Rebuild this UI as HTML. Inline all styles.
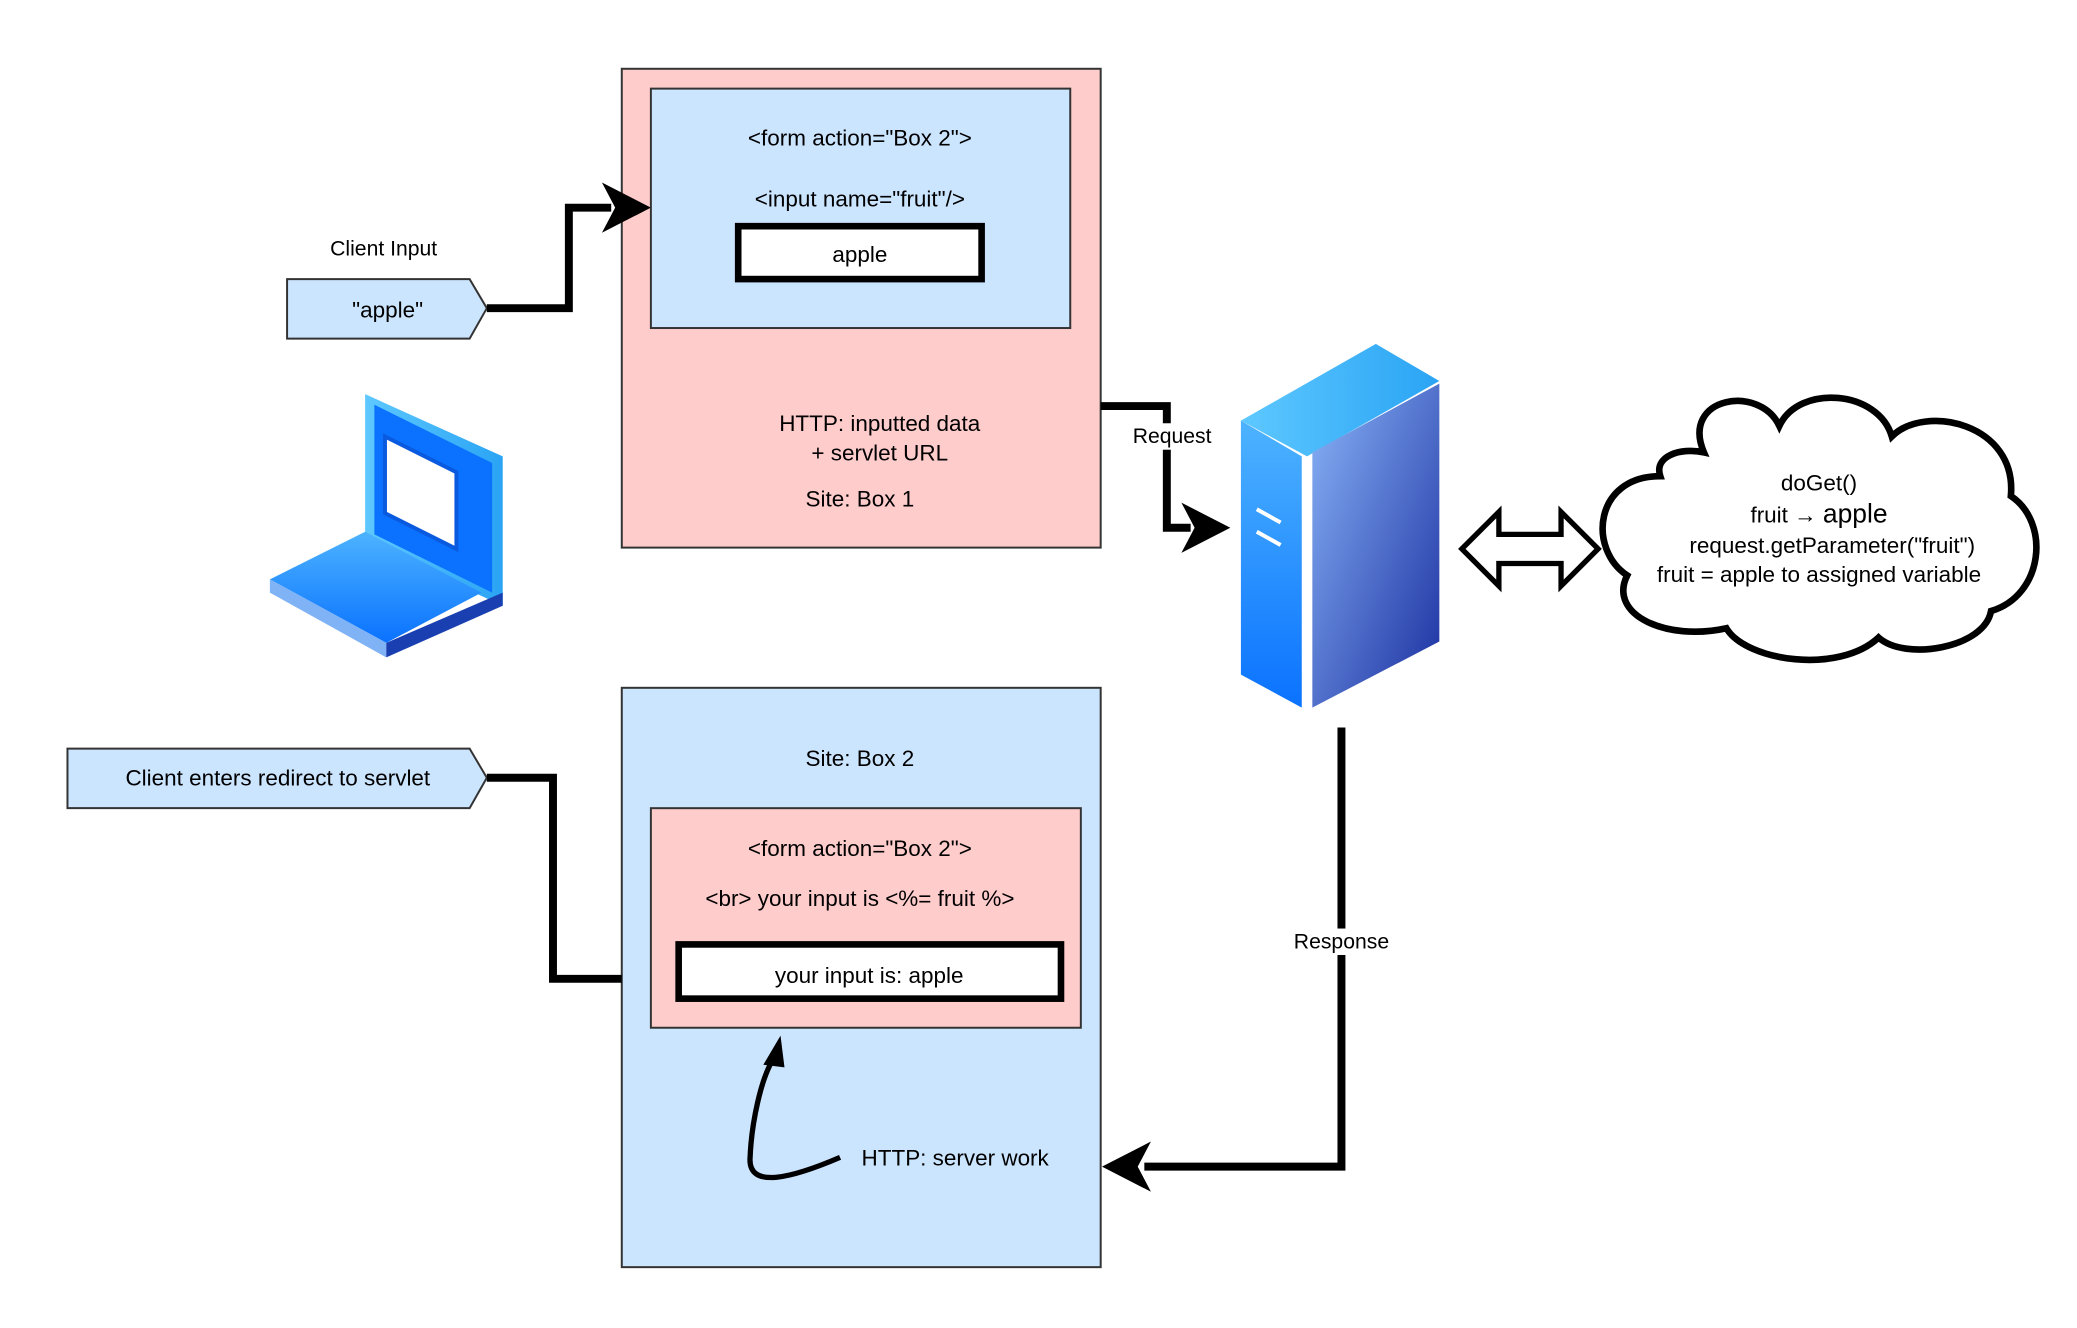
<!DOCTYPE html>
<html><head><meta charset="utf-8"><style>html,body{margin:0;padding:0;background:#fff}svg{display:block}text{font-family:"Liberation Sans",sans-serif;fill:#000}</style></head>
<body>
<svg width="2077" height="1328" viewBox="0 0 1570 1004" preserveAspectRatio="none" xmlns="http://www.w3.org/2000/svg">
<defs>
<linearGradient id="sf" x1="0" y1="0" x2="0" y2="1"><stop offset="0" stop-color="#4db3ff"/><stop offset="1" stop-color="#0a72ff"/></linearGradient>
<linearGradient id="ss" x1="0" y1="0" x2="1" y2="1"><stop offset="0" stop-color="#8ab4f8"/><stop offset="1" stop-color="#1a2fa0"/></linearGradient>
<linearGradient id="st" x1="0" y1="0" x2="1" y2="0"><stop offset="0" stop-color="#5ec8ff"/><stop offset="1" stop-color="#2aa4f4"/></linearGradient>
</defs>
<g font-size="17" text-anchor="middle">
<rect x="470" y="52" width="362" height="362" fill="#ffcccc" stroke="#333" stroke-width="1.5"/>
<rect x="492" y="67" width="317" height="181" fill="#cce5ff" stroke="#333" stroke-width="1.5"/>
<text x="650" y="110">&lt;form action="Box 2"&gt;</text>
<text x="650" y="156">&lt;input name="fruit"/&gt;</text>
<rect x="558" y="171" width="184" height="40" fill="#fff" stroke="#000" stroke-width="5"/>
<text x="650" y="198">apple</text>
<text x="665" y="326">HTTP: inputted data</text>
<text x="665" y="348">+ servlet URL</text>
<text x="650" y="383">Site: Box 1</text>
<text x="290" y="193" font-size="16">Client Input</text>
<polygon points="217,211 355,211 368,233 355,256 217,256" fill="#cce5ff" stroke="#333" stroke-width="1.5"/>
<text x="293" y="240">"apple"</text>
<polyline points="368,233 430,233 430,157 462,157" fill="none" stroke="#000" stroke-width="6"/>
<polygon points="492,157 455,138 465,157 455,176" fill="#000"/>
<polygon points="276,298 380,345 380,458 276,410" fill="url(#st)"/>
<polygon points="283,306 372,350 372,448 283,404" fill="#0a72ff"/>
<polygon points="291,330 345,357 345,415 291,388" fill="#fff" stroke="#0a5ae0" stroke-width="3"/>
<polygon points="204,438 276,402 364,448 292,486" fill="url(#sf)"/>
<polygon points="204,438 292,486 292,497 204,448" fill="#7fb3f5"/>
<polygon points="292,486 380,448 380,458 292,497" fill="#1a3fb0"/>
<polyline points="832,307 882,307 882,399 900,399" fill="none" stroke="#000" stroke-width="6"/>
<polygon points="930,399 893,380 903,399 893,418" fill="#000"/>
<rect x="852" y="320" width="68" height="20" fill="#fff"/>
<text x="886" y="335" font-size="16">Request</text>
<polygon points="938,318 1040,260 1088,288 988,345" fill="url(#st)"/>
<polygon points="938,318 984,345 984,535 938,510" fill="url(#sf)"/>
<polygon points="992,342 1088,290 1088,485 992,535" fill="url(#ss)"/>
<line x1="950" y1="385" x2="968" y2="395" stroke="#fff" stroke-width="3"/>
<line x1="950" y1="402" x2="968" y2="412" stroke="#fff" stroke-width="3"/>
<polygon points="1105,415 1133,387 1133,404 1180,404 1180,387 1208,415 1180,443 1180,426 1133,426 1133,443" fill="#fff" stroke="#000" stroke-width="4"/>
<path d="M1288,342 C1270,300 1330,290 1345,322 C1360,290 1420,295 1430,330 C1455,305 1525,320 1520,375 C1550,395 1545,450 1505,462 C1500,490 1440,500 1420,482 C1390,510 1320,500 1305,475 C1260,485 1215,465 1230,435 C1200,415 1205,360 1255,360 C1250,345 1270,338 1288,342 Z" fill="#fff" stroke="#000" stroke-width="5"/>
<text x="1375" y="371">doGet()</text>
<text x="1375" y="395"><tspan>fruit → </tspan><tspan font-size="20">apple</tspan></text>
<text x="1385" y="418">request.getParameter("fruit")</text>
<text x="1375" y="440">fruit = apple to assigned variable</text>
<rect x="470" y="520" width="362" height="438" fill="#cce5ff" stroke="#333" stroke-width="1.5"/>
<text x="650" y="579">Site: Box 2</text>
<rect x="492" y="611" width="325" height="166" fill="#ffcccc" stroke="#333" stroke-width="1.5"/>
<text x="650" y="647">&lt;form action="Box 2"&gt;</text>
<text x="650" y="685">&lt;br&gt; your input is &lt;%= fruit %&gt;</text>
<rect x="513" y="714" width="289" height="41" fill="#fff" stroke="#000" stroke-width="5"/>
<text x="657" y="743">your input is: apple</text>
<polygon points="51,566 355,566 368,588 355,611 51,611" fill="#cce5ff" stroke="#333" stroke-width="1.5"/>
<text x="210" y="594">Client enters redirect to servlet</text>
<polyline points="368,588 418,588 418,740 470,740" fill="none" stroke="#000" stroke-width="6"/>
<polyline points="1014,550 1014,882 865,882" fill="none" stroke="#000" stroke-width="6"/>
<polygon points="833,882 870,863 860,882 870,901" fill="#000"/>
<rect x="976" y="702" width="76" height="20" fill="#fff"/>
<text x="1014" y="717" font-size="16">Response</text>
<path d="M635,875 C600,890 565,900 567,875 C568,850 575,815 585,800" fill="none" stroke="#000" stroke-width="4"/>
<polygon points="590,783 577,805 593,807" fill="#000"/>
<text x="722" y="881">HTTP: server work</text>
</g>
</svg>
</body></html>
